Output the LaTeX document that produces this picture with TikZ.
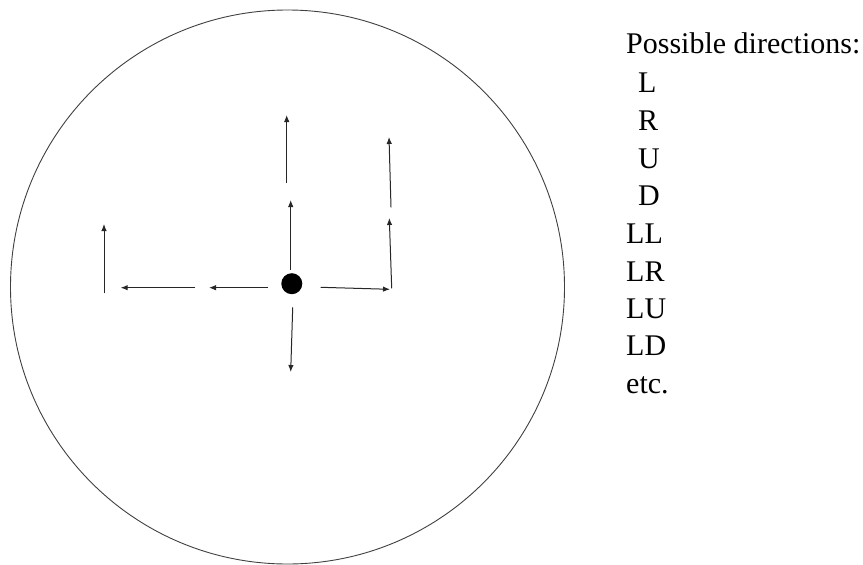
\documentclass[tikz,border=0pt]{standalone}
\usepackage{fontspec}
\setmainfont{Liberation Serif}
\usetikzlibrary{arrows.meta}
\tikzset{
  mv/.style={draw=black!85, line width=1pt, -{Latex[length=7pt,width=5.5pt]}},
  lbl/.style={anchor=base west, inner sep=0pt, font=\fontsize{30}{37.8}\selectfont, text=black},
}
\begin{document}
\begin{tikzpicture}[x=1pt,y=-1pt]
\useasboundingbox (0,0) rectangle (863,565);
\node[draw=black!75, line width=0.9pt, circle, minimum size=554pt, inner sep=0pt] (field) at (287.5,287) {};
\node[circle, fill=black, minimum size=21pt, inner sep=0pt] (dot) at (291.8,283.7) {};
% coordinates
\coordinate (u1s) at (290.7,270); \coordinate (u1e) at (290.7,200);
\coordinate (u2s) at (286.7,183); \coordinate (u2e) at (286.7,115);
\coordinate (r1s) at (320.7,287.3); \coordinate (r1e) at (390,289.3);
\coordinate (ru1s) at (391.7,288.3); \coordinate (ru1e) at (389.3,218);
\coordinate (ru2s) at (391,207.3); \coordinate (ru2e) at (389,137);
\coordinate (d1s) at (292.7,307.3); \coordinate (d1e) at (290.7,372);
\coordinate (l1s) at (268.3,287.7); \coordinate (l1e) at (209,287.7);
\coordinate (l2s) at (195,287.7); \coordinate (l2e) at (120.7,287.7);
\coordinate (lu1s) at (104,293.3); \coordinate (lu1e) at (104,224);
\draw[mv] (u1s) -- (u1e);
\draw[mv] (u2s) -- (u2e);
\draw[mv] (r1s) -- (r1e);
\draw[mv] (ru1s) -- (ru1e);
\draw[mv] (ru2s) -- (ru2e);
\draw[mv] (d1s) -- (d1e);
\draw[mv] (l1s) -- (l1e);
\draw[mv] (l2s) -- (l2e);
\draw[mv] (lu1s) -- (lu1e);
% legend
\node[lbl] (t0) at (626,53) {Possible directions:};
\node[lbl] (t1) at (638,92) {L};
\node[lbl] (t2) at (638,130) {R};
\node[lbl] (t3) at (638,168) {U};
\node[lbl] (t4) at (638,205) {D};
\node[lbl] (t5) at (626,243) {LL};
\node[lbl] (t6) at (626,281) {LR};
\node[lbl] (t7) at (626,318) {LU};
\node[lbl] (t8) at (626,355) {LD};
\node[lbl] (t9) at (626,393) {etc.};
\end{tikzpicture}
\end{document}
